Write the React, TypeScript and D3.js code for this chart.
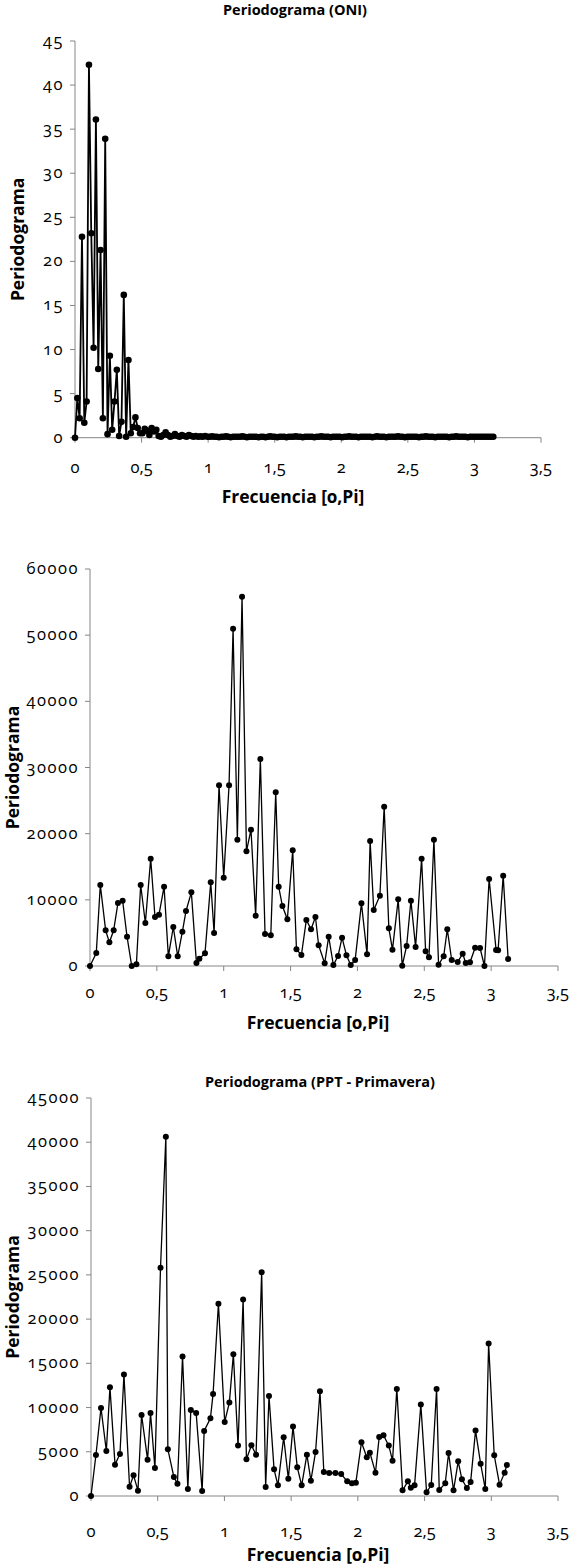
import React from "react";
import * as d3 from "d3";

// ONI: monthly series, frequencies k*2pi/360, k = 0..180
const oniValues = [
  0, 4.5, 2.2, 22.8, 1.7, 4.1, 42.3, 23.2, 10.2, 36.1,
  7.8, 21.3, 2.2, 33.9, 0.4, 9.3, 0.9, 4.1, 7.7, 0.2,
  1.8, 16.2, 0.1, 8.8, 0.5, 1.2, 2.3, 1.1, 0.5, 0.5,
  1.0, 0.8, 0.3, 1.1, 0.7, 0.9, 0.2, 0.1, 0.3, 0.6,
  0.3, 0.1, 0.2, 0.4, 0.2, 0.1, 0.3, 0.2, 0.1, 0.3,
  0.2, 0.1, 0.2, 0.1, 0.15, 0.1, 0.2, 0.1, 0.1, 0.15,
  0.1, 0.1, 0.05, 0.1, 0.1, 0.15, 0.1, 0.05, 0.1, 0.1,
  0.1, 0.1, 0.15, 0.1, 0.05, 0.1, 0.1, 0.1, 0.1, 0.05,
  0.1, 0.1, 0.05, 0.1, 0.15, 0.1, 0.1, 0.05, 0.1, 0.1,
  0.1, 0.05, 0.1, 0.1, 0.1, 0.15, 0.1, 0.1, 0.05, 0.1,
  0.1, 0.1, 0.1, 0.05, 0.1, 0.1, 0.15, 0.1, 0.1, 0.1,
  0.05, 0.1, 0.1, 0.1, 0.1, 0.05, 0.1, 0.1, 0.15, 0.1,
  0.1, 0.1, 0.05, 0.1, 0.1, 0.1, 0.1, 0.1, 0.05, 0.1,
  0.15, 0.1, 0.1, 0.1, 0.05, 0.1, 0.1, 0.1, 0.1, 0.15,
  0.1, 0.1, 0.05, 0.1, 0.1, 0.1, 0.1, 0.1, 0.05, 0.1,
  0.1, 0.15, 0.1, 0.1, 0.1, 0.05, 0.1, 0.1, 0.1, 0.1,
  0.1, 0.05, 0.1, 0.1, 0.15, 0.1, 0.1, 0.1, 0.1, 0.05,
  0.1, 0.1, 0.1, 0.1, 0.1, 0.1, 0.1, 0.1, 0.1, 0.1,
  0.1,
];
const oniFreq = oniValues.map((_, k) => (k * 2 * Math.PI) / 360);

// second periodogram (no title)
const midFreq = [
  0, 0.047, 0.077, 0.117, 0.145, 0.177, 0.209, 0.244, 0.277, 0.312,
  0.347, 0.379, 0.414, 0.454, 0.486, 0.516, 0.554, 0.586, 0.623, 0.656,
  0.691, 0.718, 0.758, 0.796, 0.818, 0.86, 0.903, 0.928, 0.965, 1.0,
  1.04, 1.07, 1.102, 1.137, 1.17, 1.204, 1.239, 1.274, 1.309, 1.352,
  1.389, 1.411, 1.439, 1.476, 1.516, 1.544, 1.581, 1.618, 1.653, 1.686,
  1.71, 1.755, 1.785, 1.82, 1.855, 1.885, 1.918, 1.95, 1.983, 2.03,
  2.072, 2.095, 2.122, 2.168, 2.2, 2.235, 2.262, 2.305, 2.335, 2.368,
  2.4, 2.435, 2.48, 2.51, 2.535, 2.572, 2.607, 2.645, 2.672, 2.705,
  2.75, 2.787, 2.81, 2.842, 2.88, 2.917, 2.95, 2.985, 3.037, 3.052,
  3.09, 3.127,
];
const midValues = [
  0, 1965, 12240, 5390, 3577, 5390, 9520, 9875, 4433, 0,
  250, 12240, 6500, 16220, 7406, 7760, 11990, 1460, 5894, 1460,
  5190, 8313, 11134, 453, 1108, 1914, 12645, 4987, 27306, 13350,
  27306, 50985, 19094, 55821, 17330, 20605, 7607, 31286, 4836, 4635,
  26248, 11990, 9068, 7053, 17480, 2519, 1662, 6952, 5541, 7406,
  3124, 403, 4433, 151, 1511, 4282, 1612, 151, 907, 9471,
  1763, 18893, 8464, 10630, 24080, 5693, 2469, 10076, 50, 3023,
  9875, 2872, 16222, 2217, 1310, 19094, 201, 1461, 5541, 907,
  605, 1864, 453, 554, 2771, 2720, 0, 13150, 2418, 2368,
  13653, 1058,
];

// PPT - Primavera
const pptFreq = [
  0, 0.037, 0.075, 0.115, 0.142, 0.18, 0.217, 0.247, 0.289, 0.319,
  0.352, 0.379, 0.424, 0.446, 0.479, 0.521, 0.561, 0.576, 0.621, 0.648,
  0.686, 0.726, 0.748, 0.788, 0.833, 0.848, 0.895, 0.915, 0.955, 1.002,
  1.037, 1.067, 1.102, 1.14, 1.165, 1.202, 1.237, 1.279, 1.309, 1.334,
  1.372, 1.401, 1.444, 1.479, 1.514, 1.546, 1.579, 1.618, 1.648, 1.683,
  1.716, 1.745, 1.785, 1.832, 1.875, 1.92, 1.955, 1.985, 2.027, 2.067,
  2.09, 2.132, 2.16, 2.192, 2.232, 2.26, 2.292, 2.335, 2.375, 2.397,
  2.425, 2.472, 2.515, 2.55, 2.59, 2.61, 2.655, 2.68, 2.717, 2.752,
  2.78, 2.817, 2.845, 2.882, 2.92, 2.955, 2.98, 3.022, 3.062, 3.1,
  3.117,
];
const pptValues = [
  0, 4640, 9958, 5092, 12297, 3546, 4753, 13730, 1056, 2339,
  604, 9166, 4111, 9392, 3168, 25800, 40624, 5281, 2150, 1396,
  15767, 792, 9732, 9392, 566, 7355, 8789, 11542, 21727, 8374,
  10562, 16031, 5696, 22218, 4149, 5733, 4677, 25310, 1018, 11316,
  3018, 1207, 6639, 1961, 7846, 3244, 1207, 4677, 1735, 4979,
  11844, 2716, 2603, 2603, 2490, 1660, 1433, 1509, 6073, 4375,
  4904, 2640, 6676, 6865, 5696, 3998, 12108, 641, 1660, 943,
  1207, 10335, 415, 1245, 12108, 679, 1433, 4866, 641, 3923,
  1886, 905, 1584, 7393, 3659, 792, 17238, 4602, 1282, 2640,
  3508,
];

const xTicks = [0, 0.5, 1, 1.5, 2, 2.5, 3, 3.5];

const FONT = "'Open Sans', 'Noto Sans', sans-serif";
const AXIS = "#868686";

type PanelProps = {
  freq: number[];
  values: number[];
  yMax: number;
  yStep: number;
  left: number;
  right: number;
  top: number;
  bottom: number;
  title?: string;
  titleX?: number;
  titleY?: number;
  tickY: number;
  xTitleX: number;
  xTitleY: number;
  yTitleX: number;
  r: number;
  stroke: number;
};

function Panel(p: PanelProps) {
  const x = d3.scaleLinear().domain([0, 3.5]).range([p.left, p.right]);
  const y = d3.scaleLinear().domain([0, p.yMax]).range([p.bottom, p.top]);
  const yTicks = d3.range(0, p.yMax + p.yStep / 2, p.yStep);
  const pts = p.freq.map((f, i) => [f, p.values[i]] as [number, number]);
  const line = d3
    .line<[number, number]>()
    .x((d) => x(d[0]))
    .y((d) => y(d[1]));
  const cy = (p.top + p.bottom) / 2;

  return (
    <g>
      {p.title && (
        <text x={p.titleX} y={p.titleY} textAnchor="middle" fontWeight="bold" fontSize={14.5}>
          {p.title}
        </text>
      )}
      {/* y axis */}
      <line x1={p.left} x2={p.left} y1={p.top} y2={p.bottom} stroke={AXIS} />
      {yTicks.map((t) => (
        <g key={"y" + t}>
          <line x1={p.left - 5} x2={p.left} y1={y(t)} y2={y(t)} stroke={AXIS} />
          <text x={p.left - 11} y={y(t) + 5} textAnchor="end" fontSize={16.5} letterSpacing={1.5}>
            {t}
          </text>
        </g>
      ))}
      {/* x axis */}
      <line x1={p.left} x2={p.right} y1={p.bottom} y2={p.bottom} stroke={AXIS} />
      {xTicks.map((t) => (
        <g key={"x" + t}>
          <line x1={x(t)} x2={x(t)} y1={p.bottom} y2={p.bottom + 5} stroke={AXIS} />
          <text x={x(t)} y={p.tickY} textAnchor="middle" fontSize={16.5}>
            {String(t).replace(".", ",")}
          </text>
        </g>
      ))}
      <text x={p.xTitleX} y={p.xTitleY} textAnchor="middle" fontWeight="bold" fontSize={17.5}>
        Frecuencia [0,Pi]
      </text>
      <text
        transform={`translate(${p.yTitleX},${cy}) rotate(-90)`}
        textAnchor="middle"
        fontWeight="bold"
        fontSize={17.5}
      >
        Periodograma
      </text>
      <path d={line(pts) || ""} fill="none" stroke="#000" strokeWidth={p.stroke} />
      {pts.map((d, i) => (
        <circle key={i} cx={x(d[0])} cy={y(d[1])} r={p.r} fill="#000" />
      ))}
    </g>
  );
}

export default function App() {
  return (
    <div style={{ position: "absolute", left: 0, top: 0 }}>
      <svg
        width={572}
        height={1566}
        style={{
          display: "block",
          fontFamily: FONT,
          fontVariantNumeric: "oldstyle-nums",
          background: "#fff",
        }}
      >
        <Panel
          freq={oniFreq}
          values={oniValues}
          yMax={45}
          yStep={5}
          left={75}
          right={541}
          top={41}
          bottom={437.7}
          title="Periodograma (ONI)"
          titleX={295}
          titleY={15}
          tickY={473}
          xTitleX={293}
          xTitleY={503}
          yTitleX={24}
          r={3.3}
          stroke={1.8}
        />
        <Panel
          freq={midFreq}
          values={midValues}
          yMax={60000}
          yStep={10000}
          left={90}
          right={558}
          top={569}
          bottom={966}
          tickY={998}
          xTitleX={318}
          xTitleY={1029}
          yTitleX={19}
          r={3}
          stroke={1.3}
        />
        <Panel
          freq={pptFreq}
          values={pptValues}
          yMax={45000}
          yStep={5000}
          left={91}
          right={558}
          top={1098}
          bottom={1496}
          title="Periodograma (PPT - Primavera)"
          titleX={320}
          titleY={1087}
          tickY={1537}
          xTitleX={318}
          xTitleY={1561}
          yTitleX={19}
          r={3}
          stroke={1.3}
        />
      </svg>
    </div>
  );
}
